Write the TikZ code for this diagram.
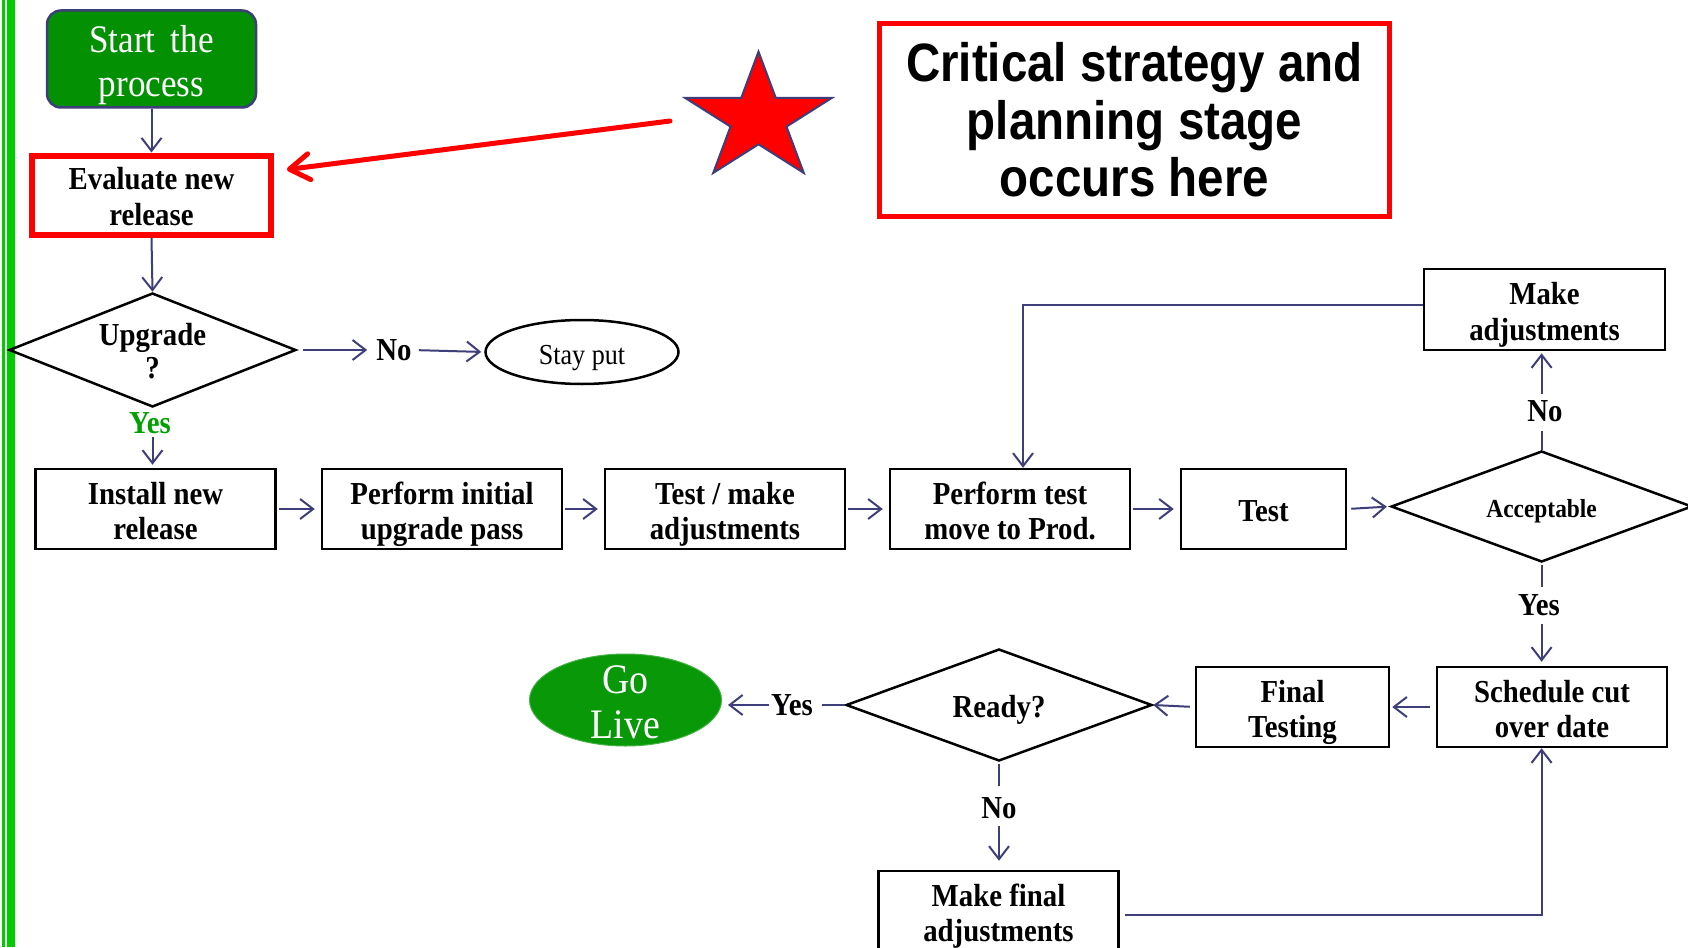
\documentclass[tikz,border=0pt]{standalone}
\usepackage{fontspec}
\setmainfont{Liberation Serif}[FakeStretch=0.9]
\newfontfamily\calloutfont{Liberation Sans}[FakeStretch=0.88]
\usetikzlibrary{shapes.geometric,arrows.meta,calc}

\definecolor{linknavy}{RGB}{62,62,122}
\definecolor{startgreen}{RGB}{3,145,3}
\definecolor{livegreen}{RGB}{8,152,8}
\definecolor{railgreen}{RGB}{0,205,0}
\definecolor{yesgreen}{RGB}{0,160,0}
\definecolor{alertred}{RGB}{255,0,0}

\newcommand\flowbold{\fontsize{32}{35.5}\selectfont\bfseries}
% centred text whose last baseline sits #1 below the node centre
\newcommand\stackat[2]{\makebox[0pt]{\raisebox{-#1}[0pt][0pt]{\parbox[b]{400pt}{\centering #2}}}}

\tikzset{
  stepbox/.style={draw=black, line width=2.5pt, inner sep=0pt,
    minimum width=240pt, minimum height=80pt, align=center, font=\flowbold},
  decision/.style={diamond, draw=black, line width=2.5pt, inner sep=0pt,
    aspect=2.5, align=center, font=\flowbold},
  lbl/.style={inner sep=0pt, font=\flowbold},
  conn/.style={draw=linknavy, line width=2pt,
    -{Straight Barb[length=13pt,width=20pt]}},
  link/.style={draw=linknavy, line width=2pt},
}

\begin{document}
\begin{tikzpicture}[x=1pt,y=-1pt]
\useasboundingbox (0,0) rectangle (1688,947);
\clip (0,0) rectangle (1688,947);
\fill[white] (0,0) rectangle (1688,947);

% double rail on the left edge
\fill[railgreen] (2,0) rectangle (4.5,947);
\fill[railgreen] (7,0) rectangle (15,947);

% ---- nodes ----
\node[rectangle, rounded corners=14pt, fill=startgreen, draw=linknavy,
  line width=2.5pt, minimum width=209pt, minimum height=97pt, inner sep=0pt,
  text=white, font=\fontsize{39}{44}\selectfont] (start) at (151.5,59)
  {\stackat{37.5pt}{Start\hspace{15pt}the\\process}};

\node[stepbox, draw=alertred, line width=6pt, minimum width=239pt,
  minimum height=79pt] (eval) at (151.5,195)
  {\stackat{30pt}{Evaluate new\\release}};

\node[decision, minimum width=287pt, minimum height=114pt] (upg) at (152.5,350)
  {\stackat{28.4pt}{\baselineskip33pt Upgrade\\?}};

\node[lbl] (no1) at (394,350) {No};
\node[ellipse, draw=black, line width=2.5pt, minimum width=193pt,
  minimum height=64pt, inner sep=0pt, font=\fontsize{29}{32}\selectfont]
  (stay) at (582,352) {\stackat{12pt}{Stay put}};

\node[lbl, text=yesgreen] (yes1) at (150,423) {Yes};

\node[stepbox] (install) at (155.5,509) {\stackat{30.5pt}{Install new\\release}};
\node[stepbox] (init) at (442,509) {\stackat{30.5pt}{Perform initial\\upgrade pass}};
\node[stepbox] (tmake) at (725,509) {\stackat{30.5pt}{Test / make\\adjustments}};
\node[stepbox] (ptest) at (1010,509) {\stackat{30.5pt}{Perform test\\move to Prod.}};
\node[stepbox, minimum width=165pt] (test) at (1263.5,509) {\stackat{12pt}{Test}};
\node[decision, minimum width=301pt, minimum height=111pt,
  font=\fontsize{26}{28}\selectfont\bfseries] (acc) at (1541.6,506.5)
  {\stackat{10.5pt}{Acceptable}};

\node[stepbox, minimum width=241pt, minimum height=81pt] (adj) at (1544.5,309.5)
  {\stackat{30.5pt}{Make\\adjustments}};
\node[lbl] (no2) at (1545,411) {No};
\node[lbl] (yes2) at (1539,605) {Yes};

\node[stepbox, minimum width=230pt] (sched) at (1552,707)
  {\stackat{30.5pt}{Schedule cut\\over date}};
\node[stepbox, minimum width=193pt] (final) at (1292.5,707)
  {\stackat{30.5pt}{Final\\Testing}};
\node[decision, minimum width=306pt, minimum height=112pt] (ready) at (999,705)
  {\stackat{12pt}{Ready?}};
\node[lbl] (yes3) at (792,705) {Yes};
\node[ellipse, fill=livegreen, draw=livegreen!75!white, line width=1pt,
  minimum width=192pt, minimum height=92pt, inner sep=0pt, text=white,
  font=\fontsize{42}{44.5}\selectfont] (live) at (625.5,700)
  {\stackat{38pt}{Go\\Live}};
\node[lbl] (no3) at (999,808) {No};
\node[stepbox] (finaladj) at (998.5,911) {\stackat{30.5pt}{Make final\\adjustments}};

% call-out box
\node[draw=alertred, line width=5pt, minimum width=510pt, minimum height=192pt,
  inner sep=0pt, align=center,
  font=\calloutfont\fontsize{54}{57.5}\selectfont\bfseries] (note) at (1134.5,120)
  {Critical strategy and\\planning stage\\occurs here};

% star marker
\coordinate (starc) at (758.5,118.7);
\begin{scope}[shift={(starc)}, x=77pt, y=67pt]
  \filldraw[fill=alertred, draw=linknavy, line width=2pt, line join=miter]
    (90:1) -- (126:0.382) -- (162:1) -- (198:0.382) -- (234:1) -- (270:0.382)
    -- (306:1) -- (342:0.382) -- (18:1) -- (54:0.382) -- cycle;
\end{scope}
\coordinate (startail) at (670,121);
\draw[alertred, line width=5pt, line cap=round,
  -{Straight Barb[length=20pt,width=26pt,round]}, shorten >=13pt]
  (startail) -- (eval.11);

% ---- connectors ----
\draw[conn] (start.south) -- (eval.north);
\draw[conn] (eval.south) -- (upg.north);
\draw[conn, shorten <=6pt, shorten >=9pt] (upg.east) -- (no1.west);
\draw[conn, shorten <=7pt, shorten >=3pt] (no1.east) -- (stay.west);
\draw[conn, shorten <=3pt, shorten >=3pt] (upg.south |- yes1.south) -- (upg.south |- install.north);

\foreach \a/\b in {install/init, init/tmake, tmake/ptest, ptest/test}
  \draw[conn, shorten <=2pt, shorten >=6pt] (\a.east) -- (\b.west);
\draw[conn, shorten <=4pt, shorten >=3pt] (test.east) -- (acc.west);

\draw[link, shorten >=9pt] (acc.north) -- (acc.north |- no2.south);
\draw[conn, shorten <=6.5pt, shorten >=2pt] (acc.north |- no2.north) -- (acc.north |- adj.south);
\draw[conn] ($(adj.west)+(0,-5)$) -| ($(ptest.north)+(13,0)$);

\draw[link, shorten <=2pt, shorten >=7.5pt] (acc.south) -- (acc.south |- yes2.north);
\draw[conn, shorten <=8.5pt, shorten >=4pt] (acc.south |- yes2.south) -- (acc.south |- sched.north);

\draw[conn, shorten <=6pt, shorten >=2pt] (sched.west) -- (final.east);
\draw[conn, shorten <=5pt] (final.west) -- (ready.east);
\draw[link, shorten >=9pt] (ready.west) -- (yes3.east);
\draw[conn, shorten <=2pt, shorten >=6pt] (yes3.west) -- (yes3.west -| live.east);

\draw[link, shorten <=2pt, shorten >=11.5pt] (ready.south) -- (ready.south |- no3.north);
\draw[conn, shorten <=7.5pt, shorten >=9pt] (ready.south |- no3.south) -- (ready.south |- finaladj.north);
\draw[conn] ($(finaladj.east)+(5,4)$) -| (acc.south |- sched.south);
\end{tikzpicture}
\end{document}
